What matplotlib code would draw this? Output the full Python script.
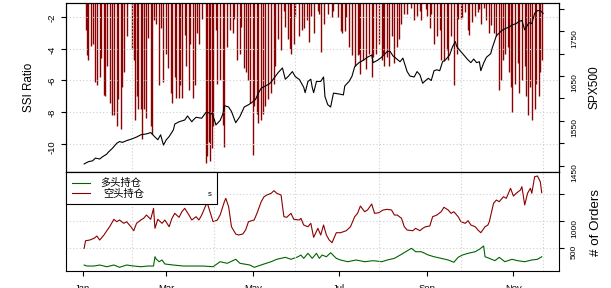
import numpy as np
import matplotlib
matplotlib.use('Agg')
import matplotlib.pyplot as plt
import matplotlib.dates as mdates
from matplotlib.patches import Rectangle

plt.rcParams['font.family'] = ['Liberation Sans', 'Noto Sans CJK SC', 'DejaVu Sans']

# x positions are days after 2013-01-01
spx_day = [1, 4, 7, 9, 12, 14, 17, 18, 21, 24, 26, 28, 31, 34, 38, 41, 45, 48, 51, 53,
           55, 57, 59, 61, 64, 65, 68, 72, 74, 77, 78, 80, 84, 87, 91, 93, 94, 97, 99, 100,
           103, 105, 108, 111, 114, 117, 119, 122, 124, 126, 129, 132, 135, 138, 141, 143, 145, 148, 150, 153,
           156, 157, 159, 161, 162, 163, 165, 168, 170, 171, 173, 175, 177, 181, 184, 185, 188, 190, 192, 195,
           198, 201, 204, 205, 208, 211, 215, 217, 219, 221, 224, 226, 229, 231, 234, 236, 238, 240, 242, 244,
           246, 248, 250, 252, 254, 256, 259, 261, 263, 264, 266, 269, 272, 274, 276, 278, 280, 281, 283, 285,
           288, 289, 292, 294, 296, 299, 301, 303, 306, 308, 310, 312, 314, 315, 317, 319, 321, 323, 325]
spx_val = [1454, 1459, 1461, 1467, 1465, 1470, 1476, 1480, 1489, 1500, 1504, 1502, 1506, 1509, 1514, 1519, 1521, 1524, 1514, 1508,
           1519, 1496, 1508, 1515, 1530, 1543, 1548, 1552, 1561, 1548, 1552, 1558, 1556, 1569, 1567, 1552, 1541, 1551, 1566, 1584,
           1581, 1571, 1546, 1560, 1581, 1586, 1590, 1598, 1612, 1623, 1628, 1633, 1645, 1658, 1668, 1643, 1649, 1660, 1649, 1642,
           1625, 1613, 1638, 1643, 1625, 1613, 1638, 1638, 1648, 1604, 1586, 1581, 1612, 1610, 1608, 1628, 1638, 1649, 1671, 1680,
           1685, 1692, 1697, 1680, 1685, 1692, 1705, 1705, 1695, 1690, 1682, 1690, 1660, 1650, 1648, 1660, 1653, 1634, 1640, 1645,
           1640, 1662, 1664, 1662, 1682, 1686, 1697, 1715, 1727, 1716, 1708, 1697, 1686, 1680, 1688, 1680, 1682, 1662, 1679, 1692,
           1700, 1712, 1740, 1746, 1752, 1757, 1759, 1764, 1767, 1772, 1774, 1753, 1764, 1769, 1767, 1790, 1796, 1796, 1790]

ssi_day = [2, 3, 4, 6, 7, 9, 10, 12, 13, 15, 16, 17, 19, 21, 22, 24, 25, 27, 28, 29,
           31, 35, 36, 37, 38, 39, 41, 42, 43, 45, 46, 48, 49, 50, 52, 54, 55, 57, 59, 60,
           62, 63, 65, 66, 68, 69, 70, 72, 73, 75, 76, 78, 79, 81, 82, 84, 87, 88, 89, 90,
           91, 92, 94, 95, 97, 99, 100, 102, 104, 106, 107, 109, 111, 112, 114, 115, 117, 118, 120, 121,
           123, 124, 126, 127, 129, 131, 133, 135, 136, 138, 140, 142, 143, 145, 146, 147, 149, 150, 153, 155,
           156, 158, 160, 161, 163, 166, 167, 168, 170, 173, 176, 177, 180, 182, 183, 185, 186, 188, 190, 192,
           194, 195, 196, 198, 200, 202, 204, 205, 207, 209, 211, 212, 213, 215, 216, 218, 220, 222, 223, 225,
           227, 229, 232, 234, 236, 238, 239, 242, 243, 245, 246, 248, 250, 252, 253, 255, 257, 258, 260, 262,
           264, 265, 267, 268, 270, 272, 273, 275, 277, 279, 280, 281, 283, 285, 287, 288, 290, 292, 294, 295,
           297, 298, 300, 301, 302, 303, 305, 307, 308, 310, 312, 313, 314, 316, 317, 319, 320, 322, 323, 324]
ssi_val = [-2.8, -4.4, -4.7, -3.8, -3.7, -6.1, -6.3, -5.8, -4.6, -6.9, -7.0, -5.1, -7.4, -8.2, -8.2, -8.9, -7.2, -9.1, -6.4, -5.5,
           -3.2, -4.0, -4.7, -8.5, -7.0, -7.8, -7.8, -9.7, -7.8, -8.4, -3.3, -8.9, -9.4, -2.2, -2.4, -6.3, -2.7, -6.1, -4.3, -5.2,
           -6.8, -7.4, -5.8, -7.1, -7.1, -6.3, -7.1, -3.1, -5.1, -6.6, -3.7, -7.1, -6.3, -3.0, -3.7, -2.1, -11.2, -10.8, -9.9, -11.1,
           -10.3, -8.9, -2.8, -6.2, -6.0, -8.8, -10.2, -3.9, -2.8, -3.0, -2.1, -4.7, -4.3, -2.6, -5.2, -5.5, -6.0, -7.4, -10.7, -7.6,
           -8.1, -8.7, -8.5, -8.1, -7.6, -7.2, -6.8, -6.2, -5.1, -3.4, -4.1, -1.6, -2.6, -3.4, -4.0, -4.3, -3.7, -1.9, -3.2, -2.8,
           -2.7, -2.2, -3.6, -1.9, -3.0, -1.6, -1.8, -4.2, -2.4, -1.8, -2.0, -1.6, -2.0, -2.9, -3.0, -2.9, -2.0, -3.9, -4.4, -5.1,
           -4.4, -4.3, -5.6, -4.7, -5.3, -4.3, -5.8, -4.5, -4.3, -3.7, -4.7, -4.3, -5.1, -4.5, -5.1, -3.2, -4.9, -3.9, -3.4, -2.4,
           -1.8, -1.8, -1.4, -2.2, -1.9, -1.6, -2.2, -1.5, -1.9, -2.7, -1.8, -3.7, -3.2, -2.8, -4.7, -4.8, -4.1, -4.7, -3.2, -6.3,
           -4.3, -2.1, -2.1, -2.0, -1.7, -2.8, -3.1, -2.3, -1.9, -1.7, -1.5, -2.4, -1.4, -2.2, -3.0, -2.5, -3.0, -3.2, -6.6, -6.0,
           -4.7, -4.3, -3.9, -5.5, -6.4, -8.0, -6.2, -4.9, -6.8, -6.0, -5.1, -7.0, -8.2, -6.4, -8.5, -7.8, -6.2, -7.0, -5.5, -4.7]

short_day = [1, 2, 5, 8, 10, 12, 15, 17, 19, 22, 24, 26, 29, 31, 34, 36, 38, 41, 43, 45,
             48, 50, 51, 53, 56, 58, 61, 63, 65, 68, 70, 72, 75, 77, 80, 82, 84, 87, 88, 92,
             95, 97, 100, 101, 103, 105, 108, 110, 113, 115, 117, 121, 123, 126, 128, 130, 133, 135, 137, 140,
             142, 144, 147, 149, 153, 154, 156, 159, 161, 163, 166, 168, 170, 172, 174, 176, 179, 182, 186, 189,
             192, 194, 196, 199, 201, 204, 206, 209, 212, 215, 218, 220, 222, 225, 227, 229, 233, 235, 238, 240,
             242, 245, 247, 250, 253, 255, 258, 260, 262, 265, 267, 270, 272, 274, 277, 279, 281, 284, 286, 287,
             290, 292, 294, 297, 299, 302, 304, 306, 309, 310, 312, 314, 316, 317, 319, 321, 323, 324]
short_val = [489, 631, 644, 676, 719, 644, 738, 818, 893, 1032, 987, 1019, 957, 987, 893, 818, 957, 1019, 1051, 1112,
             1032, 1238, 863, 1032, 957, 1019, 893, 1051, 1144, 1069, 1174, 1238, 1112, 1019, 1081, 1019, 1112, 1300, 1332, 987,
             1019, 1112, 1362, 1425, 1268, 893, 757, 738, 757, 832, 987, 1019, 1144, 1362, 1455, 1487, 1519, 1568, 1519, 1487,
             1081, 1069, 1144, 1032, 1019, 1051, 925, 893, 957, 695, 863, 738, 925, 738, 644, 594, 781, 781, 818, 893,
             1081, 1144, 1281, 1174, 1206, 1318, 1144, 1156, 1206, 1219, 1206, 1112, 1112, 1051, 893, 832, 818, 863, 818, 863,
             893, 906, 1081, 1112, 1174, 1257, 1206, 1144, 1174, 1081, 987, 957, 1006, 925, 893, 832, 781, 893, 925, 987,
             1332, 1393, 1362, 1455, 1425, 1613, 1468, 1519, 1581, 1643, 1300, 1519, 1613, 1519, 1830, 1843, 1736, 1530]

long_day = [1, 3, 8, 12, 17, 22, 26, 31, 36, 41, 46, 50, 51, 52, 54, 56, 58, 64, 71, 78,
            85, 92, 97, 102, 108, 111, 118, 121, 128, 133, 137, 143, 147, 152, 154, 156, 159, 162, 165, 167,
            169, 172, 175, 179, 182, 187, 193, 199, 205, 211, 215, 220, 225, 228, 232, 235, 239, 244, 248, 253,
            258, 262, 265, 268, 272, 277, 280, 283, 284, 287, 291, 294, 298, 303, 307, 312, 317, 321, 324]
long_val = [176, 157, 157, 176, 144, 176, 133, 176, 157, 144, 157, 157, 331, 283, 238, 270, 195, 176, 157, 157,
            157, 144, 238, 208, 283, 208, 176, 133, 195, 238, 283, 320, 283, 331, 363, 301, 395, 301, 395, 301,
            363, 331, 406, 301, 270, 238, 270, 238, 257, 238, 270, 301, 376, 425, 489, 425, 425, 363, 331, 301,
            270, 227, 320, 363, 395, 425, 470, 532, 331, 301, 257, 320, 238, 283, 257, 238, 270, 283, 331]

month_ticks = ['2013-01-01', '2013-03-01', '2013-05-01', '2013-07-01', '2013-09-01', '2013-11-01']
month_labels = ['Jan', 'Mar', 'May', 'Jul', 'Sep', 'Nov']
ssi_ticks = [-2, -4, -6, -8, -10]
spx_ticks = [1450, 1500, 1550, 1600, 1650, 1700, 1750, 1800]
spx_labels = ['1450', '', '1550', '', '1650', '', '1750', '']
order_ticks = [500, 1000, 1500]
order_labels = ['500', '1000', '']

DARKRED = '#8B0000'
DARKGREEN = '#006400'
GRIDC = '#cfcfcf'

x0 = mdates.date2num(np.datetime64('2013-01-01'))
W, H = 611, 288

fig = plt.figure(figsize=(W / 100, H / 100), dpi=100)
ax1 = fig.add_axes([66 / W, 1 - 172 / H, 493 / W, 169 / H])
ax2 = fig.add_axes([66 / W, 1 - 271 / H, 493 / W, 99 / H])
ax1r = ax1.twinx()

# top panel: SSI bars + SPX500 line
ax1.vlines(x0 + np.array(ssi_day), 0, ssi_val, color=DARKRED, lw=1.0, zorder=2)
ax1.set_ylim(-11.8, -1.1)
ax1r.plot(x0 + np.array(spx_day), spx_val, color='black', lw=0.8)
ax1r.set_ylim(1436, 1813)

# bottom panel: number of orders
ax2.plot(x0 + np.array(short_day), short_val, color=DARKRED, lw=0.8, zorder=3)
ax2.plot(x0 + np.array(long_day), long_val, color=DARKGREEN, lw=0.8, zorder=3)
ax2.set_ylim(64, 1918)

grid_days = [34.7, 92.5, 150, 209, 266.8, 324.6]
for ax in (ax1, ax2):
    ax.set_xlim(x0 - 11.8, x0 + 336.2)
    for d in grid_days:
        ax.axvline(x0 + d, color=GRIDC, lw=0.8, ls=(0, (1, 2)), zorder=4)
    for s in ax.spines.values():
        s.set_linewidth(0.8)
for t in ssi_ticks:
    ax1.axhline(t, color=GRIDC, lw=0.8, ls=(0, (1, 2)), zorder=4)
for t in order_ticks:
    ax2.axhline(t, color=GRIDC, lw=0.8, ls=(0, (1, 2)), zorder=1)

ax1.tick_params(axis='x', bottom=False, labelbottom=False)
ax1.set_yticks(ssi_ticks)
ax1.set_yticklabels([str(t) for t in ssi_ticks])
ax1.tick_params(axis='y', labelrotation=90, length=3.6, width=0.8, labelsize=6.8, pad=3)

ax1r.set_yticks(spx_ticks)
ax1r.set_yticklabels(spx_labels)
ax1r.tick_params(axis='y', labelrotation=90, length=3.6, width=0.8, labelsize=6, pad=5)

ax2.set_yticks(order_ticks)
ax2.set_yticklabels(order_labels)
ax2.tick_params(axis='y', left=False, labelleft=False, right=True, labelright=True,
                labelrotation=90, length=3.6, width=0.8, labelsize=6, pad=5)
ax2.set_xticks([mdates.date2num(np.datetime64(m)) for m in month_ticks])
ax2.set_xticklabels(month_labels)
ax2.tick_params(axis='x', length=3.6, width=0.8, labelsize=6.8, pad=6)

fig.text(29 / W, 1 - 87.5 / H, 'SSI Ratio', rotation=90, ha='center', va='center', fontsize=8.4)
fig.text(595 / W, 1 - 87.5 / H, 'SPX500', rotation=90, ha='center', va='center', fontsize=8.6)
fig.text(596 / W, 1 - 222 / H, '# of Orders', rotation=90, ha='center', va='center', fontsize=9.6)

# legend box, top-left of bottom panel
tr = ax2.transAxes
ax2.add_patch(Rectangle((0, 0.677), 0.306, 0.323, transform=tr, facecolor='white',
                        edgecolor='black', lw=0.8, zorder=6, clip_on=False))
ax2.plot([0.012, 0.049], [0.886, 0.886], transform=tr, color=DARKGREEN, lw=0.8, zorder=7)
ax2.plot([0.012, 0.049], [0.785, 0.785], transform=tr, color=DARKRED, lw=0.8, zorder=7)
ax2.text(0.069, 0.89, '多头持仓', transform=tr, fontsize=7.4, va='center', ha='left', zorder=8)
ax2.text(0.075, 0.775, '空头持仓', transform=tr, fontsize=7.4, va='center', ha='left', zorder=8)
ax2.text(0.288, 0.77, 's', transform=tr, fontsize=5.5, va='center', ha='left', zorder=8)

fig.savefig('out.png', dpi=100)
